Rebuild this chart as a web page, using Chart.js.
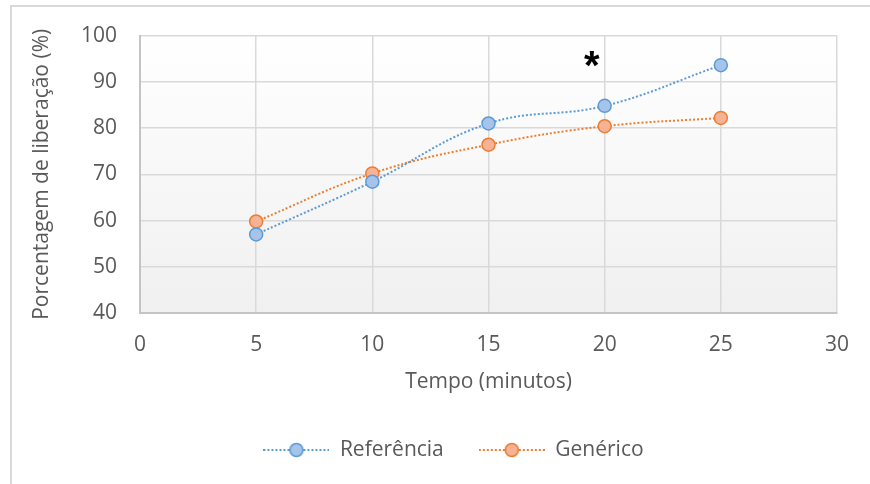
<!DOCTYPE html>
<html>
<head>
<meta charset="utf-8">
<script src="https://cdn.jsdelivr.net/npm/chart.js@4/dist/chart.umd.min.js"></script>
<style>
  html, body { margin: 0; padding: 0; background: #fff; overflow: hidden; }
  #frame { position: absolute; left: 10px; top: 5px; width: 900px; height: 520px; border: 2px solid #d9d9d9; }
  #wrap { position: absolute; left: 0; top: 0; width: 870px; height: 484px; }
</style>
</head>
<body>
<div id="frame"></div>
<div id="wrap"><canvas id="chart" width="870" height="484"></canvas></div>
<script>
const tempo = [5, 10, 15, 20, 25];
const referencia = [57.0, 68.4, 81.0, 84.8, 93.6];
const generico = [59.8, 70.2, 76.4, 80.4, 82.2];
const seriesNames = ["Referência", "Genérico"];
const xTicks = [0, 5, 10, 15, 20, 25, 30];
const yTicks = [40, 50, 60, 70, 80, 90, 100];
const asteriskAt = { x: 19.45, y: 95.0 }; // significance mark above the 20 min point

const blue = { line: "#5b9bd5", fill: "#a6c3e9" };
const orange = { line: "#ed7d31", fill: "#f5b294" };

// little line+circle picture for the legend, like Excel's
function legendIcon(c) {
    const cv = document.createElement("canvas");
    cv.width = 66; cv.height = 16;
    const g = cv.getContext("2d");
    g.strokeStyle = c.line; g.lineWidth = 2; g.setLineDash([2, 2]);
    g.beginPath(); g.moveTo(0, 8); g.lineTo(66, 8); g.stroke();
    g.setLineDash([]);
    g.beginPath(); g.arc(33, 8, 6.5, 0, Math.PI * 2);
    g.fillStyle = c.fill; g.fill();
    g.lineWidth = 1.5; g.strokeStyle = c.line; g.stroke();
    return cv;
}
const icons = [legendIcon(blue), legendIcon(orange)];

function toPoints(ys) {
    return tempo.map((x, i) => ({ x: x, y: ys[i] }));
}

const plotBg = {
    id: "plotBg",
    beforeDraw(chart) {
        const a = chart.chartArea, ctx = chart.ctx;
        const grd = ctx.createLinearGradient(0, a.top, 0, a.bottom);
        grd.addColorStop(0, "#ffffff");
        grd.addColorStop(1, "#f0f0f0");
        ctx.save();
        ctx.fillStyle = grd;
        ctx.fillRect(a.left, a.top, a.right - a.left, a.bottom - a.top);
        ctx.restore();
    }
};

const asterisk = {
    id: "asterisk",
    afterDatasetsDraw(chart) {
        const ctx = chart.ctx;
        const px = chart.scales.x.getPixelForValue(asteriskAt.x);
        const py = chart.scales.y.getPixelForValue(asteriskAt.y);
        ctx.save();
        ctx.font = "bold 40px 'Liberation Sans'";
        ctx.fillStyle = "#000";
        ctx.textAlign = "center";
        ctx.textBaseline = "alphabetic";
        const m = ctx.measureText("*");
        const mid = (m.actualBoundingBoxAscent - m.actualBoundingBoxDescent) / 2;
        ctx.fillText("*", px, py + mid);
        ctx.restore();
    }
};

const shiftLegend = {
    id: "shiftLegend",
    afterLayout(chart) {
        chart.legend.left += 35;
        chart.legend.right += 35;
    }
};

Chart.defaults.font.family = "'Open Sans'";
Chart.defaults.font.size = 21;
Chart.defaults.color = "#595959";

new Chart("chart", {
    type: "scatter",
    data: {
        datasets: [
            {
                label: seriesNames[0],
                data: toPoints(referencia),
                showLine: true,
                tension: 0.4,
                borderColor: blue.line,
                borderWidth: 2,
                borderDash: [2, 2],
                pointRadius: 6.5,
                pointBorderWidth: 1.5,
                pointBackgroundColor: blue.fill,
                pointBorderColor: blue.line
            },
            {
                label: seriesNames[1],
                data: toPoints(generico),
                showLine: true,
                tension: 0.4,
                borderColor: orange.line,
                borderWidth: 2,
                borderDash: [2, 2],
                pointRadius: 6.5,
                pointBorderWidth: 1.5,
                pointBackgroundColor: orange.fill,
                pointBorderColor: orange.line
            }
        ]
    },
    options: {
        responsive: false,
        animation: false,
        layout: { padding: { left: 0, top: 35, right: 33, bottom: 13.5 } },
        plugins: {
            tooltip: { enabled: false },
            legend: {
                position: "bottom",
                labels: {
                    usePointStyle: true,
                    pointStyleWidth: 66,
                    padding: 35,
                    font: { size: 21 },
                    generateLabels(chart) {
                        const items = Chart.defaults.plugins.legend.labels.generateLabels(chart);
                        items.forEach((it, i) => { it.pointStyle = icons[i]; });
                        return items;
                    }
                }
            }
        },
        scales: {
            x: {
                type: "linear",
                min: 0, max: 30,
                afterBuildTicks(s) { s.ticks = xTicks.map(v => ({ value: v })); },
                afterFit(s) { s.height = 91.5; },
                grid: { color: "#d9d9d9", lineWidth: 1.5, drawTicks: false },
                border: { color: "#c4c4c4", width: 2 },
                ticks: { padding: 19.4, font: { size: 21 } },
                title: { display: true, text: "Tempo (minutos)", font: { size: 21 }, padding: { top: 0, bottom: 9.9 } }
            },
            y: {
                type: "linear",
                min: 40, max: 100,
                afterBuildTicks(s) { s.ticks = yTicks.map(v => ({ value: v })); },
                afterFit(s) { s.width = 140; },
                grid: { color: "#d9d9d9", lineWidth: 1.5, drawTicks: false },
                border: { color: "#c4c4c4", width: 2 },
                ticks: { padding: 23, font: { size: 21 } },
                title: { display: true, text: "Porcentagem de liberação (%)", font: { size: 21 }, padding: { top: 29.4, bottom: 0 } }
            }
        }
    },
    plugins: [plotBg, asterisk, shiftLegend]
});
</script>
</body>
</html>
